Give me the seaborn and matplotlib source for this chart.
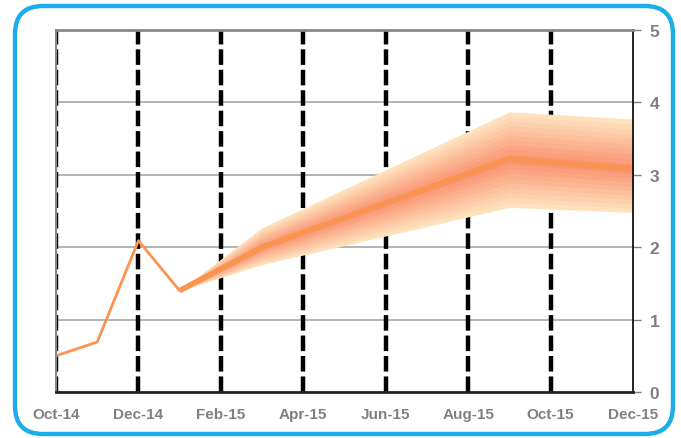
import numpy as np
import pandas as pd
import seaborn as sns
import matplotlib.pyplot as plt
import matplotlib.patches as mpatches
from matplotlib.transforms import IdentityTransform
from matplotlib.colors import to_rgb

sns.set_theme(style="white")
plt.rcParams['font.family'] = ['Liberation Sans', 'DejaVu Sans']

# data
months = ["Oct-14", "Nov-14", "Dec-14", "Jan-15", "Feb-15", "Mar-15", "Apr-15",
          "May-15", "Jun-15", "Jul-15", "Aug-15", "Sep-15", "Oct-15", "Nov-15", "Dec-15"]
hist_months = ["Oct-14", "Nov-14", "Dec-14", "Jan-15"]
hist_values = [0.50, 0.69, 2.09, 1.40]

fan_months = ["Jan-15", "Mar-15", "Sep-15", "Dec-15"]
fan_center = [1.40, 2.00, 3.22, 3.08]
fan_upper = [1.40, 2.27, 3.87, 3.77]
fan_lower = [1.40, 1.76, 2.55, 2.48]

tick_labels = ["Oct-14", "Dec-14", "Feb-15", "Apr-15", "Jun-15", "Aug-15", "Oct-15", "Dec-15"]

pos = {m: i for i, m in enumerate(months)}
hist = pd.DataFrame({"x": [pos[m] for m in hist_months], "value": hist_values})
fx = np.array([pos[m] for m in fan_months])
fc = np.array(fan_center)
fu = np.array(fan_upper)
fl = np.array(fan_lower)

fig = plt.figure(figsize=(6.81, 4.39), dpi=100)
ax = fig.add_axes([56 / 681, 46 / 439, 577 / 681, 362 / 439])

# horizontal grid
for yv in [1, 2, 3, 4]:
    ax.axhline(yv, color="#b3b3b3", lw=1.4, zorder=1)

# dashed verticals
for lab in tick_labels[:-1]:
    ax.axvline(pos[lab], color="black", lw=3.2, linestyle=(0, (3.5, 1.1)), zorder=2)

# fan bands
n_bands = 10
c_out = np.array(to_rgb("#fee2bd"))
c_in = np.array(to_rgb("#f99574"))
for k in range(n_bands):
    f = 1 - k / n_bands
    t = k / (n_bands - 1)
    col = c_out * (1 - t) + c_in * t
    ax.fill_between(fx, fc - f * (fc - fl), fc + f * (fu - fc),
                    color=col, lw=0, zorder=3)

ax.plot(fx, fc, color="#fb9450", lw=4, zorder=4, solid_capstyle="butt")
sns.lineplot(data=hist, x="x", y="value", ax=ax, color="#fb9450", lw=2, zorder=4)

ax.set_xlim(0, len(months) - 1)
ax.set_ylim(0, 5)
ax.set_xticks([pos[m] for m in tick_labels])
ax.set_xticklabels(tick_labels)
ax.set_yticks([0, 1, 2, 3, 4, 5])
ax.set_xlabel("")
ax.set_ylabel("")

ax.yaxis.tick_right()
ax.tick_params(axis="y", which="both", right=True, left=False, length=6, width=1,
               color="#808080", labelsize=12.5, labelcolor="#808080", pad=6)
ax.tick_params(axis="x", bottom=False, labelsize=11, labelcolor="#808080", pad=5)
for lbl in ax.get_xticklabels() + ax.get_yticklabels():
    lbl.set_fontweight("bold")

ax.spines["top"].set_color("#888888")
ax.spines["top"].set_linewidth(2)
ax.spines["left"].set_color("#888888")
ax.spines["left"].set_linewidth(1.5)
ax.spines["right"].set_color("black")
ax.spines["right"].set_linewidth(1.2)
ax.spines["bottom"].set_color("#222222")
ax.spines["bottom"].set_linewidth(2)
for s in ax.spines.values():
    s.set_zorder(5)

# rounded blue border
border = mpatches.FancyBboxPatch((15, 4), 658, 428,
                                 boxstyle="round,pad=0,rounding_size=28",
                                 fill=False, edgecolor="#1cadea", lw=3.2,
                                 transform=IdentityTransform())
fig.add_artist(border)

fig.savefig("out.png", dpi=100)
